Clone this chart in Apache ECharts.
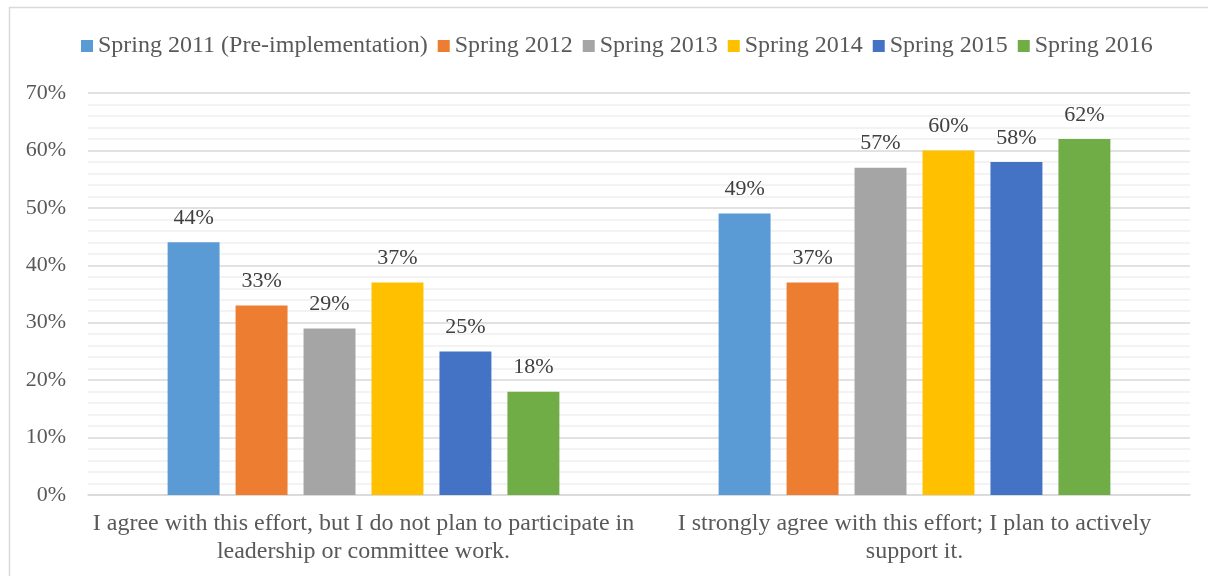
<!DOCTYPE html>
<html>
<head>
<meta charset="utf-8">
<script src="https://cdn.jsdelivr.net/npm/echarts@6/dist/echarts.min.js"></script>
<style>html,body{margin:0;padding:0;background:#fff;}#c{width:1208px;height:576px;}</style>
</head>
<body>
<div id="c"></div>
<script>
const categories = [
  "I agree with this effort, but I do not plan to participate in\nleadership or committee work.",
  "I strongly agree with this effort; I plan to actively\nsupport it."
];
const seriesNames = ["Spring 2011 (Pre-implementation)", "Spring 2012", "Spring 2013", "Spring 2014", "Spring 2015", "Spring 2016"];
const spring2011 = [44, 49];
const spring2012 = [33, 37];
const spring2013 = [29, 57];
const spring2014 = [37, 60];
const spring2015 = [25, 58];
const spring2016 = [18, 62];
const colors = ["#5b9bd5", "#ed7d31", "#a5a5a5", "#ffc000", "#4472c4", "#70ad47"];
const yTicks = [0, 10, 20, 30, 40, 50, 60, 70];

const values = [spring2011, spring2012, spring2013, spring2014, spring2015, spring2016];
const font = "'Liberation Serif', 'Times New Roman', serif";

const chart = echarts.init(document.getElementById('c'), null, {renderer: 'canvas'});
chart.setOption({
  animation: false,
  color: colors,
  graphic: [{
    type: 'rect', left: 7, top: 5, shape: {width: 1300, height: 700},
    style: {fill: 'none', stroke: '#d9d9d9', lineWidth: 1.5}, silent: true, z: -1
  }],
  legend: {
    top: 29, left: 76,
    itemWidth: 12, itemHeight: 12, itemGap: 10,
    icon: 'rect',
    textStyle: {fontFamily: font, fontSize: 24, color: '#595959', padding: [0, 0, 0, 0]},
    data: seriesNames
  },
  grid: {left: 88, right: 18, top: 93, bottom: 81, containLabel: false},
  xAxis: {
    type: 'category', data: categories,
    axisLine: {lineStyle: {color: '#d9d9d9', width: 1.5}},
    axisTick: {show: false},
    axisLabel: {interval: 0, fontFamily: font, fontSize: 24, color: '#595959', lineHeight: 28, margin: 15}
  },
  yAxis: {
    type: 'value', min: yTicks[0], max: yTicks[yTicks.length - 1], interval: 10,
    axisLine: {show: false}, axisTick: {show: false},
    axisLabel: {formatter: '{value}%', fontFamily: font, fontSize: 22, color: '#595959', margin: 22},
    splitLine: {lineStyle: {color: '#d9d9d9', width: 1.5}},
    minorTick: {show: false, splitNumber: 5},
    minorSplitLine: {show: true, lineStyle: {color: '#f0f0f0', width: 1.5}}
  },
  series: values.map((v, i) => ({
    name: seriesNames[i], type: 'bar', data: v,
    barGap: '30.8%', barCategoryGap: '28.9%',
    itemStyle: {color: colors[i]},
    label: {show: true, position: 'top', distance: 13, formatter: '{c}%', fontFamily: font, fontSize: 22, color: '#404040'}
  }))
});
</script>
</body>
</html>
